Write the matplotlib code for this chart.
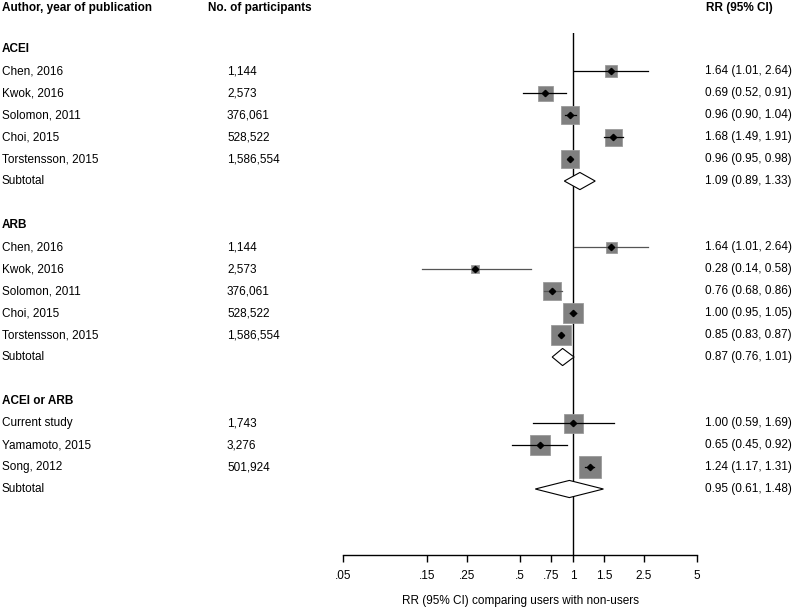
import matplotlib
matplotlib.use("Agg")
import matplotlib.pyplot as plt
import matplotlib.transforms as mtransforms
from matplotlib.patches import Polygon

plt.rcParams["font.family"] = ["Liberation Sans", "DejaVu Sans"]

# data
groups = ["ACEI", "ARB", "ACEI or ARB"]
studies = [
    ["Chen, 2016", "Kwok, 2016", "Solomon, 2011", "Choi, 2015", "Torstensson, 2015"],
    ["Chen, 2016", "Kwok, 2016", "Solomon, 2011", "Choi, 2015", "Torstensson, 2015"],
    ["Current study", "Yamamoto, 2015", "Song, 2012"],
]
participants = [
    ["1,144", "2,573", "376,061", "528,522", "1,586,554"],
    ["1,144", "2,573", "376,061", "528,522", "1,586,554"],
    ["1,743", "3,276", "501,924"],
]
rr = [[1.64, 0.69, 0.96, 1.68, 0.96],
      [1.64, 0.28, 0.76, 1.00, 0.85],
      [1.00, 0.65, 1.24]]
lo = [[1.01, 0.52, 0.90, 1.49, 0.95],
      [1.01, 0.14, 0.68, 0.95, 0.83],
      [0.59, 0.45, 1.17]]
hi = [[2.64, 0.91, 1.04, 1.91, 0.98],
      [2.64, 0.58, 0.86, 1.05, 0.87],
      [1.69, 0.92, 1.31]]
# relative study weights (box size)
weights = [[12, 15, 18, 17, 18],
           [11, 8, 18, 20, 20],
           [19, 20, 22]]
sub_rr = [1.09, 0.87, 0.95]
sub_lo = [0.89, 0.76, 0.61]
sub_hi = [1.33, 1.01, 1.48]

tick_vals = [0.05, 0.15, 0.25, 0.5, 0.75, 1, 1.5, 2.5, 5]
tick_labels = [".05", ".15", ".25", ".5", ".75", "1", "1.5", "2.5", "5"]

W, H = 793, 608
fig = plt.figure(figsize=(W / 100, H / 100), dpi=100)
ax = fig.add_axes([343 / W, 1 - 555 / H, 354 / W, (555 - 33) / H])
ax.set_xscale("log")
ax.set_xlim(0.05, 5)
ax.set_ylim(22, -1.73)
for s in ["top", "right", "left"]:
    ax.spines[s].set_visible(False)
ax.spines["bottom"].set_linewidth(1.0)
ax.set_yticks([])
ax.set_xticks(tick_vals)
ax.set_xticklabels(tick_labels, fontsize=8.5)
ax.minorticks_off()
ax.tick_params(axis="x", direction="out", length=5, width=1.0, pad=6)
ax.set_xlabel("RR (95% CI) comparing users with non-users", fontsize=8.5, labelpad=9)
ax.axvline(1, color="black", lw=1.0, zorder=1)

tr = mtransforms.blended_transform_factory(fig.transFigure, ax.transData)
fs = 8.5
x_auth, x_part, x_rr = 2 / W, 227 / W, 705 / W

fig.text(x_auth, 1 - 8 / H, "Author, year of publication", fontsize=fs, fontweight="bold", va="center")
fig.text(208 / W, 1 - 8 / H, "No. of participants", fontsize=fs, fontweight="bold", va="center")
fig.text(706 / W, 1 - 8 / H, "RR (95% CI)", fontsize=fs, fontweight="bold", va="center")

line_colors = ["black", "#555555", "black"]
row = -1
for g, name in enumerate(groups):
    ax.text(x_auth, row, name, transform=tr, fontsize=fs, fontweight="bold", va="center")
    row += 1
    for i, st in enumerate(studies[g]):
        ax.text(x_auth, row, st, transform=tr, fontsize=fs, va="center")
        ax.text(x_part, row, participants[g][i], transform=tr, fontsize=fs, va="center")
        ax.text(x_rr, row, f"{rr[g][i]:.2f} ({lo[g][i]:.2f}, {hi[g][i]:.2f})",
                transform=tr, fontsize=fs, va="center")
        ax.plot(rr[g][i], row, marker="s", ms=weights[g][i] * 0.72, color="#808080",
                mec="#9a9a9a", mew=0.6, zorder=2)
        ax.plot([lo[g][i], hi[g][i]], [row, row], color=line_colors[g], lw=0.9, zorder=3)
        ax.plot(rr[g][i], row, marker="D", ms=3.2, color="black", zorder=4)
        row += 1
    ax.text(x_auth, row, "Subtotal", transform=tr, fontsize=fs, va="center")
    ax.text(x_rr, row, f"{sub_rr[g]:.2f} ({sub_lo[g]:.2f}, {sub_hi[g]:.2f})",
            transform=tr, fontsize=fs, va="center")
    h = 0.39
    dia = Polygon([[sub_lo[g], row], [sub_rr[g], row - h], [sub_hi[g], row], [sub_rr[g], row + h]],
                  closed=True, facecolor="white", edgecolor="black", lw=0.8, zorder=3)
    ax.add_patch(dia)
    row += 2

fig.savefig("out.png", dpi=100)
